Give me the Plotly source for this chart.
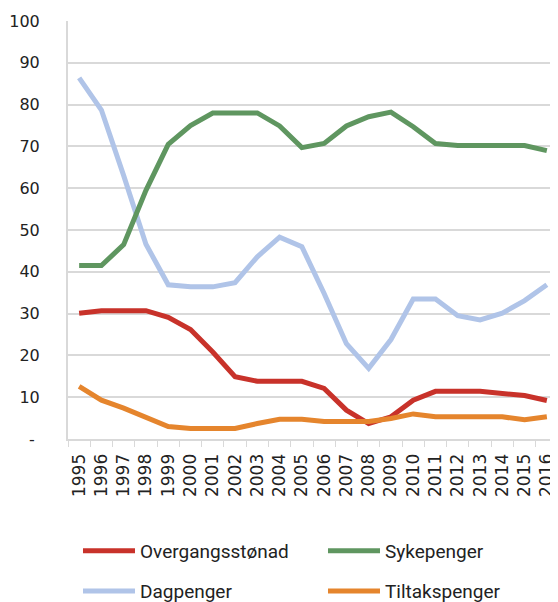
import plotly.graph_objects as go

years = [str(y) for y in range(1995, 2017)]
overgang = [30.1, 30.7, 30.7, 30.7, 29.1, 26.2, 20.8, 14.9, 13.8, 13.8, 13.8, 12.1,
            6.9, 3.7, 5.3, 9.3, 11.4, 11.4, 11.4, 10.9, 10.4, 9.2]
syke = [41.5, 41.5, 46.5, 59.5, 70.5, 75.0, 78.0, 78.0, 78.0, 74.9, 69.7, 70.7,
        74.9, 77.1, 78.2, 74.7, 70.7, 70.2, 70.2, 70.2, 70.2, 69.0]
dag = [86.4, 78.7, 63.0, 46.6, 36.9, 36.4, 36.4, 37.4, 43.6, 48.3, 46.0, 34.8,
       22.8, 16.9, 23.8, 33.5, 33.5, 29.5, 28.5, 30.1, 33.1, 36.9]
tiltak = [12.6, 9.3, 7.4, 5.3, 3.0, 2.5, 2.5, 2.5, 3.7, 4.7, 4.7, 4.2,
          4.2, 4.2, 4.9, 6.0, 5.3, 5.3, 5.3, 5.3, 4.6, 5.3]

y_ticks = [0, 10, 20, 30, 40, 50, 60, 70, 80, 90, 100]
y_tick_text = ["-\u00a0\u200b", "10", "20", "30", "40", "50", "60", "70", "80", "90", "100"]

series = [
    ("Overgangsstønad", overgang, "#C8322A", "legend"),
    ("Sykepenger", syke, "#5F9660", "legend"),
    ("Dagpenger", dag, "#B0C4E8", "legend2"),
    ("Tiltakspenger", tiltak, "#E5852D", "legend2"),
]

fig = go.Figure()
for name, vals, col, leg in [series[2], series[1], series[0], series[3]]:
    fig.add_trace(go.Scatter(x=years, y=vals, name=name, mode="lines",
                             line=dict(color=col, width=5), legend=leg))

legend_font = dict(family="Roboto", size=19, color="#222222")
ytick_font = dict(family="DejaVu Sans, Verdana", size=16, color="#222222")
xtick_font = dict(family="DejaVu Sans, Verdana", size=17, color="#222222")
# the page body adds an 8px offset, so the figure is 8px smaller on each leading side
fig.update_layout(
    width=550, height=594,
    margin=dict(l=60, r=0, t=13, b=163, autoexpand=False),
    paper_bgcolor="white", plot_bgcolor="white",
    showlegend=True,
    legend=dict(orientation="h", x=0.0204, y=-0.268, xanchor="left", yanchor="middle",
                font=legend_font, entrywidth=178, entrywidthmode="pixels",
                itemwidth=52, traceorder="reversed", bgcolor="rgba(0,0,0,0)"),
    legend2=dict(orientation="h", x=0.0204, y=-0.364, xanchor="left", yanchor="middle",
                 font=legend_font, entrywidth=178, entrywidthmode="pixels",
                 itemwidth=52, bgcolor="rgba(0,0,0,0)"),
)
fig.update_xaxes(type="category", range=[-0.5, len(years) - 0.5],
                 tickson="boundaries", ticks="outside", ticklen=6,
                 tickcolor="#D9D9D9", showline=True, linecolor="#D9D9D9", linewidth=2,
                 showgrid=False, tickangle=-90, automargin=False, ticklabelstandoff=6,
                 tickfont=xtick_font)
fig.update_yaxes(range=[0, 100], tickvals=y_ticks, ticktext=y_tick_text,
                 showgrid=True, gridcolor="#D9D9D9", gridwidth=1.5, automargin=False,
                 zeroline=False, showline=True, linecolor="#D9D9D9", linewidth=2,
                 ticks="", ticklabelstandoff=23,
                 tickfont=ytick_font)

fig.write_html("out.html")
